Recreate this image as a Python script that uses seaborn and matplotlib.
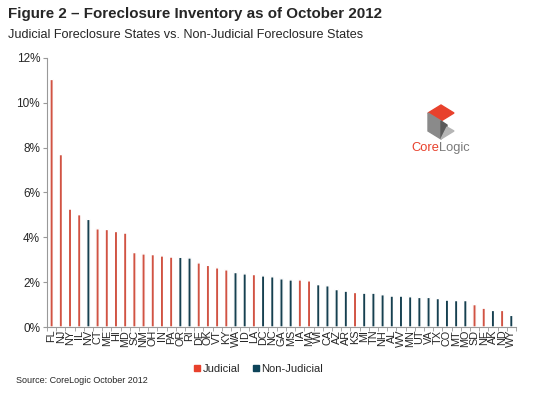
import numpy as np
import pandas as pd
import matplotlib
matplotlib.use('Agg')
import matplotlib.pyplot as plt
from matplotlib.patches import Polygon
from matplotlib.lines import Line2D
import seaborn as sns

# Chart data
states = ['FL', 'NJ', 'NY', 'IL', 'NV', 'CT', 'ME', 'HI', 'MD', 'SC', 'NM', 'OH', 'IN',
          'PA', 'OR', 'RI', 'DE', 'OK', 'VT', 'KY', 'WA', 'ID', 'LA', 'DC', 'NC', 'GA',
          'MS', 'IA', 'MA', 'WI', 'CA', 'AZ', 'AR', 'KS', 'MI', 'TN', 'NH', 'AL', 'WV',
          'MN', 'UT', 'VA', 'TX', 'CO', 'MT', 'MO', 'SD', 'NE', 'AK', 'ND', 'WY']
inventory = [11.04, 7.69, 5.26, 5.01, 4.80, 4.38, 4.35, 4.26, 4.19, 3.32, 3.26, 3.23, 3.17,
             3.12, 3.11, 3.08, 2.86, 2.75, 2.64, 2.55, 2.43, 2.37, 2.34, 2.28, 2.24, 2.15,
             2.10, 2.10, 2.06, 1.89, 1.84, 1.67, 1.60, 1.54, 1.51, 1.51, 1.44, 1.38, 1.38,
             1.35, 1.32, 1.32, 1.27, 1.20, 1.18, 1.18, 1.00, 0.84, 0.74, 0.74, 0.52]
judicial = ['FL', 'NJ', 'NY', 'IL', 'CT', 'ME', 'HI', 'MD', 'SC', 'NM', 'OH', 'IN', 'PA',
            'DE', 'OK', 'VT', 'KY', 'LA', 'IA', 'MA', 'KS', 'SD', 'NE', 'ND']
y_ticks = [0, 2, 4, 6, 8, 10, 12]

red = '#E8412C'
teal = '#0D4459'

df = pd.DataFrame({'state': states, 'value': inventory})
df['type'] = np.where(df['state'].isin(judicial), 'Judicial', 'Non-Judicial')

sns.set_style('white')
plt.rcParams['font.family'] = ['Liberation Sans', 'DejaVu Sans']

fig = plt.figure(figsize=(5.5, 3.94), dpi=100)
ax = fig.add_axes([0.0855, 0.170, 0.8525, 0.683])

sns.barplot(data=df, x='state', y='value', hue='type', dodge=False, width=0.36,
            palette={'Judicial': red, 'Non-Judicial': teal}, legend=False, ax=ax)
for p in ax.patches:
    p.set_snap(False)

ax.set_xlim(-0.5, len(states) - 0.5)
ax.set_ylim(0, 12)
ax.set_yticks(y_ticks)
ax.set_yticklabels([f'{t}%' for t in y_ticks], fontsize=8.5)
ax.set_xlabel('')
ax.set_ylabel('')
ax.tick_params(axis='x', which='major', length=0, labelrotation=90, labelsize=7.8, pad=2)
ax.set_xticks(np.arange(-0.5, len(states), 1), minor=True)
ax.tick_params(axis='x', which='minor', length=3, color='#999999', direction='out', bottom=True)
ax.tick_params(axis='y', length=3, color='#999999', direction='out', left=True, pad=2)
for side in ['top', 'right']:
    ax.spines[side].set_visible(False)
for side in ['left', 'bottom']:
    ax.spines[side].set_color('#999999')
    ax.spines[side].set_linewidth(0.8)

# Titles and source
fig.text(0.015, 0.965, 'Figure 2 \u2013 Foreclosure Inventory as of October 2012',
         fontsize=10.9, fontweight='bold', va='center')
fig.text(0.015, 0.912, 'Judicial Foreclosure States vs. Non-Judicial Foreclosure States',
         fontsize=9.1, va='center')
fig.text(0.03, 0.033, 'Source: CoreLogic October 2012', fontsize=6.5, va='center')

# Legend
handles = [Line2D([], [], marker='s', color='none', markerfacecolor=red, markeredgecolor=red,
                  markersize=5, label='Judicial'),
           Line2D([], [], marker='s', color='none', markerfacecolor=teal, markeredgecolor=teal,
                  markersize=5, label='Non-Judicial')]
fig.legend(handles=handles, loc='center', bbox_to_anchor=(0.47, 0.063), ncol=2, frameon=False,
           fontsize=8, handlelength=0.6, handletextpad=0.2, columnspacing=1.1)

# CoreLogic logo
W, H = 550, 394
def fp(pts):
    return [(x / W, 1 - y / H) for x, y in pts]
fig.patches.append(Polygon(fp([(428, 113), (441, 105), (454, 113), (441, 121)]),
                           closed=True, transform=fig.transFigure, color=red))
fig.patches.append(Polygon(fp([(428, 113), (441, 121), (441, 139), (428, 131)]),
                           closed=True, transform=fig.transFigure, color='#8A8A8A'))
fig.patches.append(Polygon(fp([(441, 121), (447, 125), (447, 131), (441, 139)]),
                           closed=True, transform=fig.transFigure, color='#5A5A5A'))
fig.patches.append(Polygon(fp([(441, 139), (454, 131), (447, 127)]),
                           closed=True, transform=fig.transFigure, color='#B5B5B5'))
fig.text(439 / W, 1 - 148 / H, 'Core', color=red, fontsize=9.3, va='center', ha='right')
fig.text(439.3 / W, 1 - 148 / H, 'Logic', color='#7A7A7A', fontsize=9.3, va='center', ha='left')

fig.savefig('out.png', dpi=100)
